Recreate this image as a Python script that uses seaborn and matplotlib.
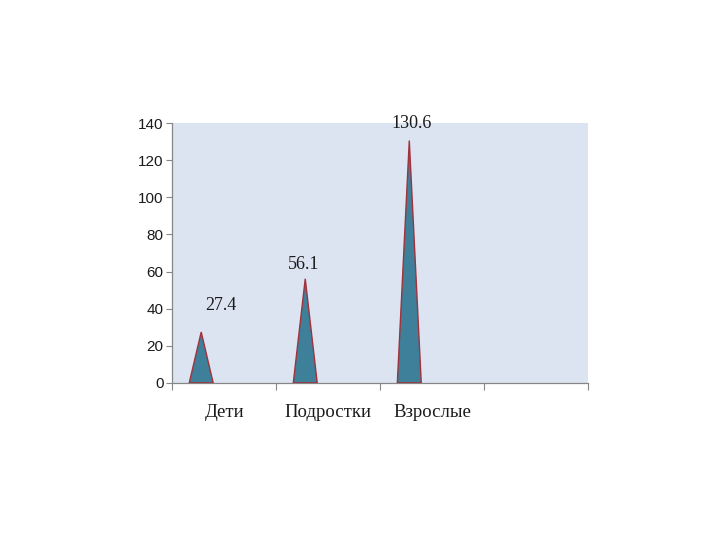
import matplotlib
matplotlib.use("Agg")
import matplotlib.pyplot as plt
import seaborn as sns
import numpy as np

# Data
categories = ['Дети', 'Подростки', 'Взрослые', '']
values = [27.4, 56.1, 130.6, np.nan]
value_labels = ['27.4', '56.1', '130.6']

sns.set_theme(style="white")
plt.rcParams['font.family'] = ['Liberation Sans', 'DejaVu Sans']

fig = plt.figure(figsize=(7.2, 5.4), dpi=100)
ax = fig.add_axes([0.239, 0.291, 0.578, 0.481])
ax.set_facecolor('#dce4f2')

# invisible bars give the categorical axis
sns.barplot(x=list(range(len(categories))), y=[0 if np.isnan(v) else v for v in values],
            ax=ax, alpha=0, linewidth=0, native_scale=True)

fill_col = '#3e7f99'
edge_col = '#a0323c'
shift, half = -0.22, 0.115
for i, v in enumerate(values):
    if np.isnan(v):
        continue
    xc = i + shift
    ax.fill([xc - half, xc, xc + half], [0, v, 0], facecolor=fill_col,
            edgecolor=edge_col, linewidth=1.0, zorder=3)

# data labels
label_off = [(14, 13), (-1, 4), (1.5, 6)]
for i, (v, t) in enumerate(zip(values[:3], value_labels)):
    ax.annotate(t, (i + shift, v), xytext=label_off[i], textcoords='offset points',
                ha='center', va='bottom', fontsize=13, family='Liberation Serif', color='#1a1a1a')

ax.set_xlim(-0.5, len(categories) - 0.5)
ax.set_ylim(0, 140)
ax.set_yticks(np.arange(0, 141, 20))
ax.tick_params(axis='y', labelsize=11, length=4, width=0.8, color='#868686',
               left=True, pad=2, labelcolor='#1a1a1a')

ax.set_xticks(np.arange(-0.5, len(categories), 1.0))
ax.set_xticklabels([])
ax.set_xticks(range(len(categories)), minor=True)
ax.set_xticklabels(categories, minor=True, family='Liberation Serif', fontsize=13.5, color='#1a1a1a')
ax.tick_params(axis='x', which='major', length=5, width=0.8, color='#868686', bottom=True)
ax.tick_params(axis='x', which='minor', length=0, pad=15)

for s in ['top', 'right']:
    ax.spines[s].set_visible(False)
for s in ['left', 'bottom']:
    ax.spines[s].set_color('#868686')
    ax.spines[s].set_linewidth(0.9)
ax.set_xlabel('')
ax.set_ylabel('')

fig.savefig('out.png', dpi=100)
